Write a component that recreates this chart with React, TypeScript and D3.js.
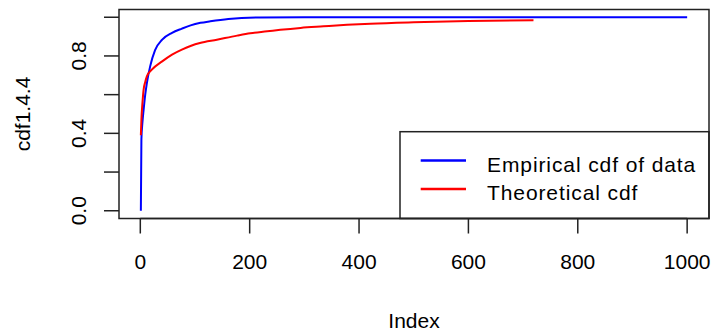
import React from "react";
import * as d3 from "d3";

// points: [index, cdf]
const empiricalCdf: [number, number][] = [
  [1, 0], [2, 0.37], [4, 0.46], [6, 0.52], [9, 0.6], [12, 0.66], [18, 0.746],
  [27, 0.83], [40, 0.884], [58, 0.919], [76, 0.941], [92, 0.958], [110, 0.971],
  [128, 0.979], [161, 0.991], [219, 0.999], [300, 1], [1000, 1],
];
const theoreticalCdf: [number, number][] = [
  [1, 0.39], [2, 0.47], [4, 0.56], [6, 0.625], [9, 0.665], [12, 0.694],
  [21, 0.729], [40, 0.772], [58, 0.807], [76, 0.833], [93, 0.853],
  [109, 0.867], [140, 0.884], [177, 0.905], [201, 0.917], [232, 0.927],
  [256, 0.935], [293, 0.945], [335, 0.953], [378, 0.961], [421, 0.967],
  [500, 0.974], [600, 0.98], [719, 0.985],
];
const xTicks = [0, 200, 400, 600, 800, 1000];
const yTicks = [0, 0.2, 0.4, 0.6, 0.8, 1.0];
const yTickLabels = ["0.0", "", "0.4", "", "0.8", ""];
const legendItems = [
  { label: "Empirical cdf of data", color: "#0000ff" },
  { label: "Theoretical cdf", color: "#ff0000" },
];

const W = 714;
const H = 332;
const box = { left: 119, right: 709, top: 9.5, bottom: 218.5 };
const font = "'Liberation Sans', Arial, sans-serif";

export default function App() {
  // R pads the data range by 4% on each side
  const x = d3.scaleLinear().domain([1 - 0.04 * 999, 1000 + 0.04 * 999]).range([box.left, box.right]);
  const y = d3.scaleLinear().domain([-0.04, 1.04]).range([box.bottom, box.top]);

  const line = d3
    .line<[number, number]>()
    .x((d) => x(d[0]))
    .y((d) => y(d[1]))
    .curve(d3.curveMonotoneX);

  const tickLen = 15;
  const leg = { left: 400, top: 131.7 };

  return (
    <svg
      width={W}
      height={H}
      style={{ position: "absolute", left: 0, top: 0, background: "#fff" }}
      fontFamily={font}
      fontSize={21}
    >
      <path d={line(empiricalCdf) || ""} fill="none" stroke="#0000ff" strokeWidth={2} />
      <path d={line(theoreticalCdf) || ""} fill="none" stroke="#ff0000" strokeWidth={2} />

      {/* legend */}
      <rect
        x={leg.left}
        y={leg.top}
        width={box.right - leg.left}
        height={box.bottom - leg.top}
        fill="#fff"
        stroke="#222"
        strokeWidth={1.5}
      />
      {legendItems.map((d, i) => (
        <g key={d.label} transform={`translate(0, ${160.5 + i * 28.5})`}>
          <line x1={420.7} x2={466} stroke={d.color} strokeWidth={2.5} />
          <text x={487} y={11} fill="#000" letterSpacing={0.9}>
            {d.label}
          </text>
        </g>
      ))}

      {/* box */}
      <rect
        x={box.left}
        y={box.top}
        width={box.right - box.left}
        height={box.bottom - box.top}
        fill="none"
        stroke="#222"
        strokeWidth={1.5}
      />

      {/* x axis */}
      <g>
        <line x1={x(0)} x2={x(1000)} y1={box.bottom} y2={box.bottom} stroke="#222" strokeWidth={1.5} />
        {xTicks.map((t) => (
          <g key={t} transform={`translate(${x(t)}, 0)`}>
            <line y1={box.bottom} y2={box.bottom + tickLen} stroke="#222" strokeWidth={1.5} />
            <text y={269.3} textAnchor="middle" fill="#000">
              {t}
            </text>
          </g>
        ))}
      </g>

      {/* y axis */}
      <g>
        {yTicks.map((t, i) => (
          <g key={t} transform={`translate(0, ${y(t)})`}>
            <line x1={box.left - tickLen} x2={box.left} stroke="#222" strokeWidth={1.5} />
            {yTickLabels[i] && (
              <text transform="translate(86, 0) rotate(-90)" textAnchor="middle" fill="#000">
                {yTickLabels[i]}
              </text>
            )}
          </g>
        ))}
      </g>

      <text x={(box.left + box.right) / 2} y={327.7} textAnchor="middle" fill="#000">
        Index
      </text>
      <text
        transform={`translate(29.5, ${(box.top + box.bottom) / 2}) rotate(-90)`}
        textAnchor="middle"
        fill="#000"
      >
        cdf1.4.4
      </text>
    </svg>
  );
}
